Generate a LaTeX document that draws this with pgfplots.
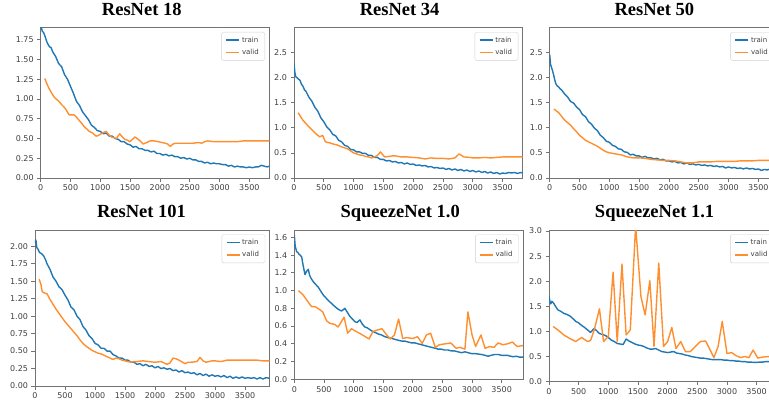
\documentclass[border=0pt]{standalone}
\usepackage{pgfplots}
\pgfplotsset{compat=1.18}
\usepackage{fontspec}
\setmainfont{Liberation Serif}
\newfontfamily\dejavu{DejaVu Sans}
\definecolor{mblue}{HTML}{1F77B4}
\definecolor{morange}{HTML}{FF8F2E}
\pgfplotsset{
  mpl/.style={
    scale only axis,
    anchor=south west,
    xmin=0,
    axis line style={black!55, line width=0.7pt},
    every tick/.style={black!55, line width=0.7pt},
    tick align=outside,
    major tick length=3.5pt,
    tick pos=left,
    xtick={0,500,...,3500},
    tick label style={font=\dejavu\fontsize{8}{9}\selectfont, text=black!75},
    /pgf/number format/assume math mode=true,
    x tick label style={/pgf/number format/set thousands separator={}},
    title style={font=\bfseries\fontsize{18.5}{20}\selectfont, anchor=base, yshift=6pt},
    legend style={at={(1,1)}, anchor=north east, xshift=-4.3pt, yshift=-4.5pt,
      draw=black!18, rounded corners=1.5pt, fill=white,
      font=\dejavu\fontsize{7}{8}\selectfont, text=black!75,
      inner xsep=4pt, inner ysep=2.5pt, row sep=1.5pt},
    legend cell align=left,
    legend image code/.code={\draw[##1, line width=1.4pt] (0pt,0pt) -- (13pt,0pt);},
  },
  train/.style={color=mblue, line width=1.4pt, line join=round, mark=none},
  valid/.style={color=morange, line width=1.4pt, line join=round, mark=none},
}
\begin{document}
\begin{tikzpicture}
\useasboundingbox (0,0) rectangle (769pt,400pt);
\clip (0,0) rectangle (769pt,400pt);

% ---------- ResNet 18 ----------
\begin{axis}[mpl, at={(40.7pt,222pt)}, width=228.6pt, height=150.5pt,
  xmax=3835, ymin=0, ymax=1.906,
  ytick={0,0.25,...,1.75},
  yticklabel style={/pgf/number format/fixed, /pgf/number format/fixed zerofill, /pgf/number format/precision=2},
  title={ResNet 18}, title style={at={(0.442,1)}}]
\addplot[train] coordinates {(0,1.88)(12,1.91)(25,1.86)(50,1.84)(75,1.79)(100,1.73)(125,1.69)(150,1.66)(175,1.65)(200,1.60)(250,1.54)(300,1.45)(350,1.41)(400,1.31)(450,1.25)(500,1.16)(550,1.07)(600,0.97)(650,0.92)(700,0.84)(750,0.79)(800,0.74)(850,0.67)(900,0.64)(950,0.60)(1000,0.59)(1050,0.56)(1100,0.57)(1150,0.53)(1200,0.53)(1250,0.50)(1300,0.49)(1350,0.46)(1400,0.46)(1450,0.43)(1500,0.42)(1550,0.39)(1600,0.40)(1650,0.37)(1700,0.37)(1750,0.35)(1800,0.35)(1850,0.33)(1900,0.34)(1950,0.31)(2000,0.31)(2050,0.29)(2100,0.30)(2150,0.28)(2200,0.29)(2250,0.27)(2300,0.27)(2350,0.25)(2400,0.26)(2450,0.24)(2500,0.25)(2550,0.23)(2600,0.23)(2650,0.21)(2700,0.21)(2750,0.19)(2800,0.20)(2850,0.18)(2900,0.19)(2950,0.18)(3000,0.18)(3050,0.17)(3100,0.17)(3150,0.15)(3200,0.16)(3250,0.14)(3300,0.15)(3350,0.14)(3400,0.14)(3450,0.13)(3500,0.14)(3550,0.13)(3600,0.14)(3650,0.14)(3700,0.16)(3750,0.15)(3800,0.14)(3835,0.15)};
\addplot[valid] coordinates {(68,1.26)(100,1.20)(136,1.14)(180,1.08)(221,1.03)(260,1.00)(306,0.97)(350,0.93)(390,0.90)(430,0.86)(476,0.80)(520,0.80)(560,0.80)(600,0.77)(645,0.73)(690,0.69)(730,0.65)(775,0.62)(815,0.59)(870,0.57)(929,0.53)(970,0.54)(1014,0.56)(1060,0.58)(1100,0.59)(1140,0.55)(1183,0.52)(1230,0.51)(1268,0.50)(1325,0.56)(1370,0.52)(1410,0.49)(1450,0.48)(1495,0.46)(1540,0.49)(1580,0.52)(1636,0.49)(1680,0.46)(1721,0.43)(1780,0.45)(1835,0.47)(1900,0.47)(1976,0.46)(2030,0.45)(2090,0.44)(2130,0.43)(2174,0.40)(2220,0.43)(2260,0.44)(2350,0.44)(2450,0.44)(2550,0.44)(2650,0.45)(2700,0.44)(2750,0.46)(2800,0.47)(2900,0.46)(3000,0.46)(3100,0.46)(3200,0.46)(3300,0.46)(3400,0.47)(3500,0.47)(3600,0.47)(3700,0.47)(3835,0.47)};
\legend{train,valid}
\end{axis}

% ---------- ResNet 34 ----------
\begin{axis}[mpl, at={(294pt,222pt)}, width=228.6pt, height=150.5pt,
  xmax=3835, ymin=0, ymax=3.0,
  ytick={0,0.5,...,2.5},
  yticklabel style={/pgf/number format/fixed, /pgf/number format/fixed zerofill, /pgf/number format/precision=1},
  title={ResNet 34}, title style={at={(0.462,1)}}]
\addplot[train] coordinates {(0,2.29)(15,2.10)(30,2.02)(50,2.00)(75,1.97)(100,1.95)(125,1.87)(150,1.83)(175,1.76)(200,1.73)(250,1.61)(300,1.53)(350,1.41)(400,1.33)(450,1.20)(500,1.12)(550,1.02)(600,0.96)(650,0.87)(700,0.84)(750,0.75)(800,0.72)(850,0.65)(900,0.63)(950,0.57)(1000,0.56)(1050,0.52)(1100,0.52)(1150,0.49)(1200,0.49)(1250,0.45)(1300,0.45)(1350,0.41)(1400,0.41)(1450,0.37)(1500,0.37)(1550,0.34)(1600,0.35)(1650,0.32)(1700,0.33)(1750,0.30)(1800,0.31)(1850,0.28)(1900,0.30)(1950,0.27)(2000,0.28)(2050,0.25)(2100,0.26)(2150,0.24)(2200,0.25)(2250,0.22)(2300,0.23)(2350,0.20)(2400,0.21)(2450,0.19)(2500,0.20)(2550,0.17)(2600,0.19)(2650,0.16)(2700,0.18)(2750,0.15)(2800,0.17)(2850,0.14)(2900,0.16)(2950,0.13)(3000,0.15)(3050,0.12)(3100,0.14)(3150,0.11)(3200,0.13)(3250,0.10)(3300,0.12)(3350,0.09)(3400,0.11)(3450,0.08)(3500,0.10)(3550,0.09)(3600,0.11)(3650,0.10)(3700,0.11)(3750,0.09)(3800,0.11)(3835,0.10)};
\addplot[valid] coordinates {(70,1.30)(150,1.15)(250,1.02)(350,0.90)(430,0.82)(480,0.85)(527,0.72)(600,0.70)(650,0.68)(720,0.66)(800,0.62)(850,0.60)(900,0.58)(950,0.54)(1000,0.50)(1050,0.48)(1100,0.46)(1150,0.45)(1200,0.43)(1250,0.42)(1300,0.40)(1350,0.42)(1400,0.45)(1450,0.52)(1520,0.42)(1600,0.43)(1650,0.44)(1700,0.44)(1750,0.43)(1800,0.42)(1900,0.42)(2000,0.41)(2100,0.40)(2200,0.38)(2300,0.40)(2400,0.39)(2500,0.39)(2600,0.38)(2700,0.40)(2770,0.48)(2850,0.42)(2950,0.41)(3000,0.40)(3100,0.40)(3200,0.41)(3300,0.40)(3400,0.41)(3500,0.42)(3600,0.42)(3700,0.42)(3835,0.42)};
\legend{train,valid}
\end{axis}

% ---------- ResNet 50 ----------
\begin{axis}[mpl, at={(549.7pt,222pt)}, width=228.6pt, height=150.5pt,
  xmax=3835, ymin=0, ymax=2.99,
  ytick={0,0.5,...,2.5},
  yticklabel style={/pgf/number format/fixed, /pgf/number format/fixed zerofill, /pgf/number format/precision=1},
  title={ResNet 50}, title style={at={(0.458,1)}}]
\addplot[train] coordinates {(0,2.45)(15,2.25)(30,2.20)(50,2.12)(75,2.00)(100,1.88)(125,1.83)(150,1.81)(175,1.77)(200,1.75)(250,1.67)(300,1.61)(350,1.52)(400,1.49)(450,1.41)(500,1.36)(550,1.26)(600,1.22)(650,1.12)(700,1.07)(750,0.99)(800,0.94)(850,0.85)(900,0.80)(950,0.73)(1000,0.71)(1050,0.65)(1100,0.63)(1150,0.58)(1200,0.57)(1250,0.52)(1300,0.51)(1350,0.46)(1400,0.47)(1450,0.44)(1500,0.44)(1550,0.41)(1600,0.43)(1650,0.40)(1700,0.40)(1750,0.38)(1800,0.39)(1850,0.36)(1900,0.37)(1950,0.34)(2000,0.34)(2050,0.32)(2100,0.33)(2150,0.30)(2200,0.31)(2250,0.28)(2300,0.30)(2350,0.27)(2400,0.28)(2450,0.26)(2500,0.27)(2550,0.25)(2600,0.26)(2650,0.24)(2700,0.25)(2750,0.23)(2800,0.24)(2850,0.22)(2900,0.23)(2950,0.20)(3000,0.22)(3050,0.20)(3100,0.21)(3150,0.19)(3200,0.20)(3250,0.18)(3300,0.20)(3350,0.18)(3400,0.19)(3450,0.17)(3500,0.18)(3550,0.15)(3600,0.17)(3650,0.16)(3700,0.18)(3750,0.16)(3800,0.18)(3835,0.17)};
\addplot[valid] coordinates {(70,1.37)(150,1.30)(250,1.15)(300,1.10)(350,1.05)(400,0.98)(450,0.92)(500,0.85)(550,0.80)(600,0.75)(650,0.72)(700,0.69)(750,0.66)(800,0.63)(850,0.59)(900,0.55)(950,0.52)(1000,0.50)(1050,0.49)(1100,0.48)(1150,0.47)(1200,0.46)(1250,0.44)(1300,0.42)(1350,0.41)(1400,0.40)(1500,0.40)(1600,0.39)(1700,0.37)(1800,0.36)(1900,0.35)(2000,0.35)(2100,0.34)(2200,0.32)(2300,0.30)(2400,0.30)(2500,0.32)(2600,0.32)(2700,0.32)(2800,0.33)(2900,0.33)(3000,0.33)(3100,0.33)(3200,0.34)(3300,0.34)(3400,0.34)(3500,0.35)(3600,0.35)(3700,0.35)(3835,0.35)};
\legend{train,valid}
\end{axis}

% ---------- ResNet 101 ----------
\begin{axis}[mpl, at={(35pt,14pt)}, width=234.5pt, height=156pt,
  xmax=3908, ymin=0, ymax=2.233,
  ytick={0,0.25,...,2.0},
  yticklabel style={/pgf/number format/fixed, /pgf/number format/fixed zerofill, /pgf/number format/precision=2},
  title={ResNet 101}, title style={at={(0.454,1)}, yshift=1pt}]
\addplot[train] coordinates {(0,2.05)(15,2.09)(30,1.98)(50,1.96)(75,1.91)(100,1.90)(139,1.87)(175,1.81)(200,1.75)(250,1.67)(300,1.56)(350,1.50)(400,1.42)(450,1.38)(500,1.30)(550,1.23)(600,1.13)(650,1.09)(700,1.00)(750,0.95)(800,0.85)(850,0.80)(900,0.72)(950,0.68)(1000,0.61)(1050,0.59)(1100,0.54)(1150,0.54)(1200,0.50)(1250,0.50)(1300,0.45)(1350,0.43)(1400,0.40)(1450,0.40)(1500,0.37)(1550,0.37)(1600,0.34)(1650,0.34)(1700,0.31)(1750,0.32)(1800,0.29)(1850,0.31)(1900,0.28)(1950,0.29)(2000,0.26)(2050,0.28)(2100,0.25)(2150,0.26)(2200,0.24)(2250,0.25)(2300,0.22)(2350,0.23)(2400,0.20)(2450,0.22)(2500,0.19)(2550,0.20)(2600,0.18)(2650,0.19)(2700,0.16)(2750,0.18)(2800,0.15)(2850,0.17)(2900,0.14)(2950,0.16)(3000,0.14)(3050,0.15)(3100,0.13)(3150,0.15)(3200,0.12)(3250,0.14)(3300,0.11)(3350,0.13)(3400,0.11)(3450,0.13)(3500,0.11)(3550,0.12)(3600,0.11)(3650,0.12)(3700,0.10)(3750,0.12)(3800,0.10)(3850,0.12)(3908,0.11)};
\addplot[valid] coordinates {(70,1.53)(100,1.45)(120,1.35)(160,1.33)(200,1.32)(250,1.24)(300,1.17)(350,1.10)(400,1.04)(450,0.98)(500,0.92)(550,0.87)(600,0.82)(650,0.77)(700,0.72)(750,0.66)(800,0.61)(850,0.57)(900,0.54)(950,0.51)(1000,0.49)(1050,0.47)(1100,0.46)(1150,0.44)(1200,0.42)(1250,0.40)(1300,0.38)(1350,0.40)(1400,0.39)(1450,0.37)(1500,0.36)(1550,0.35)(1600,0.34)(1650,0.35)(1700,0.35)(1800,0.36)(1900,0.35)(2000,0.34)(2100,0.35)(2200,0.31)(2250,0.33)(2300,0.40)(2350,0.39)(2400,0.37)(2500,0.32)(2550,0.34)(2600,0.34)(2700,0.35)(2750,0.41)(2800,0.36)(2850,0.34)(2950,0.36)(3000,0.36)(3100,0.35)(3200,0.37)(3300,0.37)(3400,0.37)(3500,0.37)(3600,0.37)(3700,0.37)(3800,0.36)(3908,0.36)};
\legend{train,valid}
\end{axis}

% ---------- SqueezeNet 1.0 ----------
\begin{axis}[mpl, at={(294.3pt,20.7pt)}, width=228.7pt, height=149.3pt,
  xmax=3860, ymin=0, ymax=1.683,
  ytick={0,0.2,...,1.6},
  yticklabel style={/pgf/number format/fixed, /pgf/number format/fixed zerofill, /pgf/number format/precision=1},
  title={SqueezeNet 1.0}, title style={at={(0.463,1)}, yshift=1pt}]
\addplot[train] coordinates {(0,1.63)(15,1.50)(39,1.44)(60,1.43)(80,1.41)(100,1.40)(124,1.38)(150,1.28)(180,1.18)(210,1.22)(236,1.24)(260,1.17)(290,1.13)(320,1.10)(360,1.07)(404,1.04)(450,0.99)(489,0.95)(530,0.92)(573,0.89)(620,0.86)(685,0.82)(740,0.79)(798,0.77)(854,0.80)(900,0.75)(938,0.71)(980,0.68)(1022,0.65)(1060,0.64)(1107,0.67)(1150,0.62)(1191,0.59)(1230,0.58)(1275,0.56)(1320,0.54)(1360,0.53)(1420,0.51)(1472,0.50)(1530,0.48)(1584,0.47)(1650,0.46)(1700,0.45)(1753,0.44)(1820,0.43)(1870,0.43)(1921,0.42)(1980,0.41)(2040,0.41)(2090,0.40)(2150,0.39)(2200,0.38)(2258,0.37)(2320,0.36)(2380,0.35)(2427,0.34)(2480,0.34)(2530,0.33)(2596,0.33)(2650,0.32)(2700,0.32)(2764,0.31)(2820,0.30)(2880,0.31)(2933,0.30)(2990,0.29)(3050,0.29)(3101,0.285)(3160,0.28)(3220,0.27)(3270,0.26)(3320,0.27)(3382,0.28)(3440,0.28)(3500,0.27)(3551,0.27)(3600,0.27)(3650,0.26)(3691,0.255)(3750,0.26)(3800,0.25)(3860,0.25)};
\addplot[valid] coordinates {(70,1.00)(150,0.95)(230,0.875)(290,0.82)(350,0.82)(420,0.79)(480,0.76)(545,0.66)(600,0.63)(680,0.62)(740,0.59)(840,0.70)(900,0.52)(966,0.57)(1040,0.54)(1100,0.52)(1200,0.48)(1260,0.455)(1330,0.54)(1420,0.56)(1480,0.57)(1560,0.50)(1620,0.455)(1690,0.50)(1760,0.68)(1830,0.46)(1900,0.47)(2000,0.46)(2080,0.48)(2160,0.405)(2230,0.50)(2300,0.52)(2380,0.36)(2450,0.39)(2550,0.40)(2640,0.41)(2730,0.35)(2800,0.36)(2880,0.34)(2930,0.76)(3000,0.50)(3060,0.37)(3150,0.50)(3220,0.35)(3300,0.37)(3370,0.36)(3440,0.41)(3520,0.39)(3600,0.40)(3680,0.42)(3760,0.37)(3860,0.38)};
\legend{train,valid}
\end{axis}

% ---------- SqueezeNet 1.1 ----------
\begin{axis}[mpl, at={(549pt,18.3pt)}, width=229pt, height=151.7pt,
  xmax=3860, ymin=0, ymax=3.02,
  ytick={0,0.5,...,3.0},
  yticklabel style={/pgf/number format/fixed, /pgf/number format/fixed zerofill, /pgf/number format/precision=1},
  title={SqueezeNet 1.1}, title style={at={(0.461,1)}, yshift=1pt}]
\addplot[train] coordinates {(0,1.71)(15,1.60)(30,1.55)(50,1.60)(80,1.56)(110,1.50)(150,1.43)(200,1.40)(250,1.36)(300,1.34)(350,1.31)(400,1.26)(450,1.20)(500,1.17)(550,1.12)(600,1.08)(650,1.03)(700,0.98)(730,1.02)(760,1.06)(800,1.02)(850,0.96)(900,0.94)(950,0.92)(1000,0.88)(1050,0.83)(1100,0.80)(1150,0.76)(1200,0.75)(1250,0.74)(1300,0.85)(1350,0.81)(1400,0.78)(1450,0.75)(1500,0.73)(1550,0.72)(1600,0.70)(1650,0.67)(1700,0.65)(1750,0.65)(1800,0.66)(1850,0.63)(1900,0.60)(1950,0.59)(2000,0.58)(2050,0.59)(2100,0.60)(2150,0.57)(2200,0.56)(2250,0.55)(2300,0.53)(2350,0.52)(2400,0.50)(2450,0.49)(2500,0.48)(2550,0.47)(2600,0.47)(2650,0.46)(2700,0.45)(2750,0.44)(2800,0.44)(2850,0.44)(2900,0.44)(2950,0.43)(3000,0.43)(3050,0.42)(3100,0.42)(3150,0.41)(3200,0.41)(3250,0.40)(3300,0.40)(3350,0.39)(3400,0.39)(3450,0.385)(3500,0.385)(3550,0.39)(3600,0.39)(3650,0.40)(3700,0.40)(3750,0.40)(3800,0.40)(3860,0.40)};
\addplot[valid] coordinates {(70,1.10)(150,1.03)(250,0.93)(350,0.86)(450,0.80)(550,0.88)(650,0.80)(700,0.82)(760,1.02)(850,1.45)(920,0.80)(1000,0.90)(1080,2.18)(1150,0.80)(1230,2.34)(1300,0.93)(1370,1.03)(1460,3.10)(1550,1.69)(1620,1.33)(1700,2.01)(1770,0.70)(1850,2.36)(1930,0.70)(2000,0.80)(2070,1.08)(2140,0.66)(2220,0.80)(2300,0.60)(2380,0.60)(2450,0.68)(2550,0.80)(2640,0.81)(2720,0.62)(2780,0.48)(2850,0.70)(2920,1.20)(3000,0.56)(3080,0.58)(3150,0.52)(3230,0.48)(3300,0.50)(3370,0.48)(3440,0.63)(3520,0.47)(3600,0.49)(3700,0.50)(3860,0.50)};
\legend{train,valid}
\end{axis}
\end{tikzpicture}
\end{document}
